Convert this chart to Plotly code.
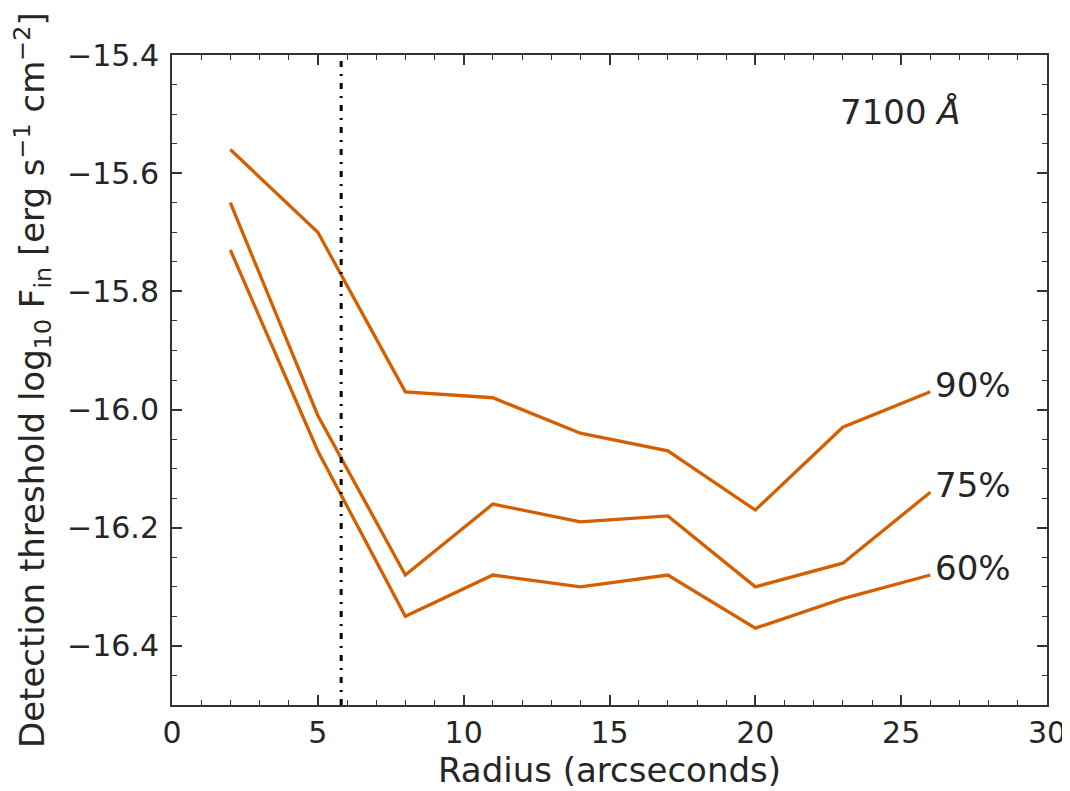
import plotly.graph_objects as go

radius = [2, 5, 8, 11, 14, 17, 20, 23, 26]
thr_90 = [-15.56, -15.70, -15.97, -15.98, -16.04, -16.07, -16.17, -16.03, -15.97]
thr_75 = [-15.65, -16.01, -16.28, -16.16, -16.19, -16.18, -16.30, -16.26, -16.14]
thr_60 = [-15.73, -16.07, -16.35, -16.28, -16.30, -16.28, -16.37, -16.32, -16.28]
series_labels = ["90%", "75%", "60%"]
vline_x = 5.8
wavelength_label = "7100 <i>Å</i>"

LINE_COLOR = "#D55E00"
TEXT_COLOR = "#262626"
FONT = "DejaVu Sans"

fig = go.Figure()
for ys, lab in zip([thr_90, thr_75, thr_60], series_labels):
    fig.add_trace(go.Scatter(x=radius, y=ys, mode="lines", name=lab,
                             line=dict(color=LINE_COLOR, width=3.3), showlegend=False))
    fig.add_annotation(x=radius[-1], y=ys[-1], text=lab, xref="x", yref="y",
                       xanchor="left", yanchor="middle", xshift=3, yshift=7,
                       showarrow=False, font=dict(family=FONT, size=34, color=TEXT_COLOR))

fig.add_trace(go.Scatter(x=[vline_x, vline_x], y=[-16.5, -15.4], mode="lines",
                         line=dict(color="black", width=3, dash="6px,7px,2px,7px"),
                         showlegend=False))

fig.add_annotation(x=22.85, y=-15.497, text=wavelength_label, xref="x", yref="y",
                   xanchor="left", yanchor="middle", showarrow=False,
                   font=dict(family=FONT, size=34, color=TEXT_COLOR))

fig.add_annotation(x=-0.16, y=0.5, xref="paper", yref="paper", textangle=-90,
                   text="Detection threshold log<sub>10</sub> F<sub>in</sub> [erg s<sup>−1</sup> cm<sup>−2</sup>]",
                   showarrow=False, xanchor="center", yanchor="middle",
                   font=dict(family=FONT, size=34, color=TEXT_COLOR))

axis_common = dict(showline=True, linecolor="#333333", linewidth=2, mirror="allticks",
                   ticks="inside", ticklen=10, tickwidth=1.5, tickcolor="#333333",
                   showgrid=False, zeroline=False, automargin=False,
                   tickfont=dict(family=FONT, size=30, color=TEXT_COLOR))

fig.update_xaxes(range=[0, 30], tick0=0, dtick=5, **axis_common,
                 minor=dict(ticks="inside", ticklen=5, dtick=1, tickcolor="#333333", tickwidth=1),
                 title=dict(text="Radius (arcseconds)", standoff=5,
                            font=dict(family=FONT, size=34, color=TEXT_COLOR)))
fig.update_yaxes(range=[-16.5, -15.4], tick0=-16.4, dtick=0.2, tickformat=".1f", **axis_common,
                 ticklabelstandoff=5,
                 minor=dict(ticks="inside", ticklen=5, dtick=0.05, tickcolor="#333333", tickwidth=1))

fig.update_layout(width=1062, height=783, margin=dict(l=164, r=23, t=47, b=86),
                  plot_bgcolor="white", paper_bgcolor="white",
                  font=dict(family=FONT, color=TEXT_COLOR))

fig.write_html("out.html")
